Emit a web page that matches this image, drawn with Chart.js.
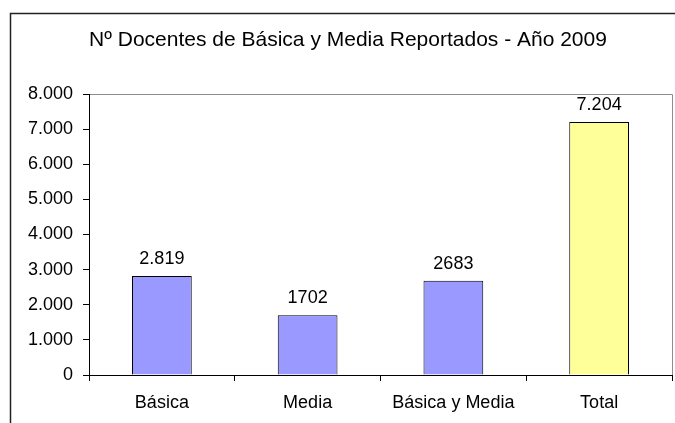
<!DOCTYPE html>
<html>
<head>
<meta charset="utf-8">
<script src="https://cdn.jsdelivr.net/npm/chart.js@4/dist/chart.umd.min.js"></script>
<style>
  html, body { margin: 0; padding: 0; background: #fff; }
  #wrap { width: 675px; height: 423px; }
</style>
</head>
<body>
<div id="wrap"><canvas id="chart" width="675" height="423"></canvas></div>
<script>
'use strict'

const titleText = 'Nº Docentes de Básica y Media Reportados - Año 2009'
const categories = ['Básica', 'Media', 'Básica y Media', 'Total']
const docentes = [2819, 1702, 2683, 7204]
const valueLabels = ['2.819', '1702', '2683', '7.204']
const barColors = ['#9999ff', '#9999ff', '#9999ff', '#ffff99']
const yTickLabels = ['0', '1.000', '2.000', '3.000', '4.000', '5.000', '6.000', '7.000', '8.000']

const font = { family: '"Liberation Sans", Arial, sans-serif', size: 18 }

// outer frame, title, plot area box and the numbers over each bar
const decorations = {
  id: 'decorations',
  beforeDraw(chart) {
    const ctx = chart.ctx
    const a = chart.chartArea
    ctx.save()
    ctx.fillStyle = '#fff'
    ctx.fillRect(0, 0, chart.width, chart.height)
    ctx.strokeStyle = '#222'
    ctx.lineWidth = 1.5
    ctx.beginPath()
    ctx.moveTo(10.5, chart.height)
    ctx.lineTo(10.5, 13.5)
    ctx.lineTo(chart.width, 13.5)
    ctx.stroke()
    ctx.strokeStyle = '#8c8c8c'
    ctx.lineWidth = 1
    ctx.beginPath()
    ctx.moveTo(Math.round(a.left) + 0.5, Math.round(a.top) + 0.5)
    ctx.lineTo(Math.round(a.right) + 0.5, Math.round(a.top) + 0.5)
    ctx.lineTo(Math.round(a.right) + 0.5, Math.round(a.bottom) + 0.5)
    ctx.stroke()
    ctx.fillStyle = '#000'
    ctx.font = '21px "Liberation Sans", Arial, sans-serif'
    ctx.textAlign = 'center'
    ctx.textBaseline = 'middle'
    ctx.fillText(titleText, 348, 40)
    ctx.restore()
  },
  afterDatasetsDraw(chart) {
    const ctx = chart.ctx
    ctx.save()
    ctx.fillStyle = '#000'
    ctx.font = '18px "Liberation Sans", Arial, sans-serif'
    ctx.textAlign = 'center'
    ctx.textBaseline = 'alphabetic'
    chart.getDatasetMeta(0).data.forEach((bar, i) => {
      ctx.fillText(valueLabels[i], bar.x, bar.y - 12)
    })
    ctx.restore()
  },
}

const config = {
  type: 'bar',
  data: {
    labels: categories,
    datasets: [
      {
        data: docentes,
        backgroundColor: barColors,
        borderColor: '#000',
        borderWidth: 1,
        categoryPercentage: 1.0,
        barPercentage: 0.41,
      },
    ],
  },
  options: {
    responsive: false,
    animation: false,
    layout: { padding: { left: 0, right: 3, top: 94, bottom: 0 } },
    plugins: {
      legend: { display: false },
      title: { display: false },
      tooltip: { enabled: false },
    },
    scales: {
      x: {
        grid: {
          offset: true,
          drawOnChartArea: false,
          tickLength: 6,
          color: '#000',
        },
        border: { color: '#000' },
        ticks: { color: '#000', font: font, padding: 11, maxRotation: 0 },
        afterFit(s) { s.height = 48 },
      },
      y: {
        min: 0,
        max: 8000,
        grid: { drawOnChartArea: false, tickLength: 6, color: '#000' },
        border: { color: '#000' },
        ticks: {
          stepSize: 1000,
          color: '#000',
          font: font,
          padding: 10,
          callback: (v, i) => yTickLabels[i],
        },
        afterFit(s) { s.width = 89 },
      },
    },
  },
  plugins: [decorations],
}

const myChart = new Chart(document.getElementById('chart'), config)
</script>
</body>
</html>
